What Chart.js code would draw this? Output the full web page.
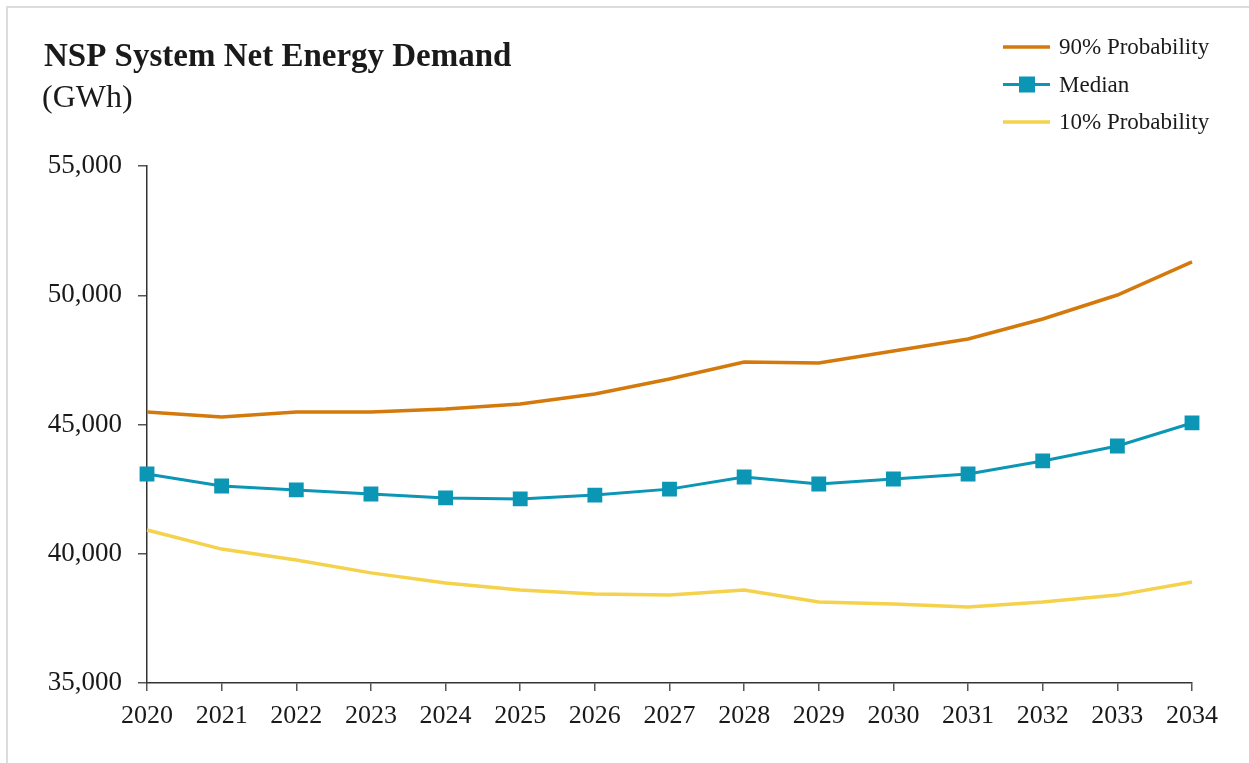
<!DOCTYPE html>
<html>
<head>
<meta charset="utf-8">
<script src="https://cdn.jsdelivr.net/npm/chart.js@4/dist/chart.umd.min.js"></script>
<style>
  html, body { margin: 0; padding: 0; background: #fff; }
  #wrap { position: relative; width: 1249px; height: 763px; overflow: hidden; }
  #frame { position: absolute; left: 6px; top: 6px; width: 1300px; height: 800px;
           border-left: 2px solid #dcdcdc; border-top: 2px solid #dcdcdc; pointer-events: none; }
</style>
</head>
<body>
<div id="wrap">
  <canvas id="myChart" width="1249" height="763"></canvas>
  <div id="frame"></div>
</div>
<script>
var years = ['2020', '2021', '2022', '2023', '2024', '2025', '2026', '2027', '2028', '2029', '2030', '2031', '2032', '2033', '2034'];
var prob90 = [45480, 45290, 45480, 45480, 45600, 45790, 46180, 46760, 47420, 47380, 47840, 48310, 49080, 50010, 51290];
var median = [43085, 42620, 42470, 42310, 42160, 42120, 42270, 42500, 42970, 42700, 42890, 43085, 43590, 44170, 45060];
var prob10 = [40919, 40180, 39760, 39260, 38870, 38600, 38440, 38400, 38600, 38130, 38060, 37940, 38130, 38400, 38910];
var yTicks = [35000, 40000, 45000, 50000, 55000];

var chartTitle = 'NSP System Net Energy Demand';
var chartUnit = '(GWh)';
var serif = '"Liberation Serif", "DejaVu Serif", serif';

// title + vertical legend drawn on the canvas
var headerPlugin = {
    id: 'header',
    afterDraw: function(chart) {
        var c = chart.ctx;
        c.save();
        c.fillStyle = '#1a1a1a';
        c.textBaseline = 'alphabetic';
        c.textAlign = 'left';
        c.font = 'bold 33px ' + serif;
        c.fillText(chartTitle, 44, 66);
        c.font = '32px ' + serif;
        c.fillText(chartUnit, 42, 107);

        c.font = '23px ' + serif;
        c.textBaseline = 'middle';
        chart.data.datasets.forEach(function(ds, i) {
            var y = 47 + i * 37.5;
            c.strokeStyle = ds.borderColor;
            c.lineWidth = ds.borderWidth;
            c.beginPath();
            c.moveTo(1003, y);
            c.lineTo(1050, y);
            c.stroke();
            if (ds.pointRadius > 0) {
                c.fillStyle = ds.backgroundColor;
                c.fillRect(1019, y - 8, 16, 16);
            }
            c.fillStyle = '#1a1a1a';
            c.fillText(ds.label, 1059, y + 1);
        });
        c.restore();
    }
};

var ctx = document.getElementById('myChart').getContext('2d');
var myChart = new Chart(ctx, {
    type: 'line',
    data: {
        labels: years,
        datasets: [{
            label: '90% Probability',
            data: prob90,
            borderColor: '#d4790b',
            backgroundColor: '#d4790b',
            borderWidth: 3.5,
            pointRadius: 0,
            tension: 0
        }, {
            label: 'Median',
            data: median,
            borderColor: '#0a96b4',
            backgroundColor: '#0a96b4',
            borderWidth: 3,
            pointStyle: 'rect',
            pointRadius: 10.5,
            pointBorderWidth: 0,
            tension: 0
        }, {
            label: '10% Probability',
            data: prob10,
            borderColor: '#f4d24c',
            backgroundColor: '#f4d24c',
            borderWidth: 3.5,
            pointRadius: 0,
            tension: 0
        }]
    },
    options: {
        responsive: false,
        animation: false,
        layout: {
            padding: { top: 166, right: 57, bottom: 0, left: 0 }
        },
        plugins: {
            legend: { display: false },
            title: { display: false },
            tooltip: { enabled: false }
        },
        scales: {
            x: {
                offset: false,
                afterFit: function(scale) { scale.height = 80; },
                grid: { drawOnChartArea: false, drawTicks: true, tickLength: 8, color: '#555', lineWidth: 1.5 },
                border: { display: true, color: '#333', width: 1.5 },
                ticks: {
                    color: '#1a1a1a',
                    padding: 10,
                    maxRotation: 0,
                    font: { family: serif, size: 26 }
                }
            },
            y: {
                min: 35000,
                max: 55000,
                afterFit: function(scale) { scale.width = 147; },
                afterBuildTicks: function(scale) {
                    scale.ticks = yTicks.map(function(v) { return { value: v }; });
                },
                grid: { drawOnChartArea: false, drawTicks: true, tickLength: 9, color: '#555', lineWidth: 1.5 },
                border: { display: true, color: '#333', width: 1.5 },
                ticks: {
                    color: '#1a1a1a',
                    padding: 16,
                    font: { family: serif, size: 27 },
                    callback: function(v) { return v.toLocaleString('en-US'); }
                }
            }
        }
    },
    plugins: [headerPlugin]
});
</script>
</body>
</html>
